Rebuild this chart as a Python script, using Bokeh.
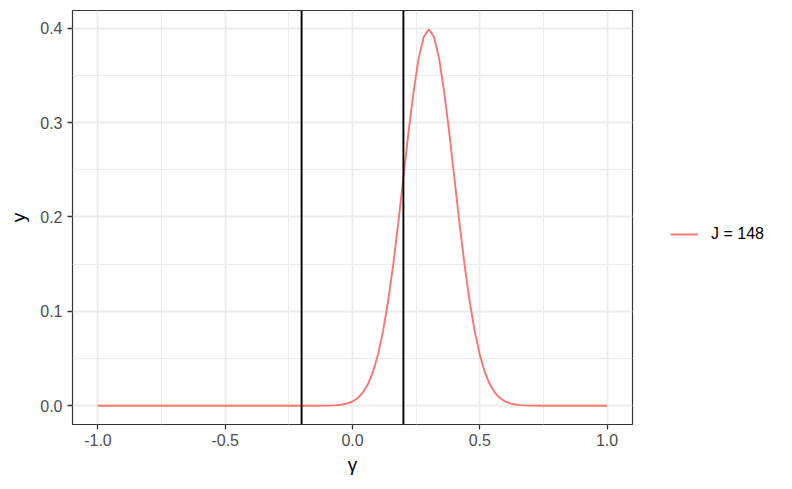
import numpy as np
from bokeh.plotting import figure
from bokeh.models import (Span, Legend, LegendItem, FixedTicker, PrintfTickFormatter, Range1d)
from bokeh.embed import file_html
from bokeh.resources import INLINE

# gamma grid (-1 to 1 step 0.02)
gamma = np.round(np.linspace(-1.0, 1.0, 101), 2)
density = [
    0.0, 0.0, 0.0, 0.0, 0.0, 0.0, 0.0, 0.0, 0.0, 0.0,
    0.0, 0.0, 0.0, 0.0, 0.0, 0.0, 0.0, 0.0, 0.0, 0.0,
    0.0, 0.0, 0.0, 0.0, 0.0, 0.0, 0.0, 0.0, 0.0, 0.0,
    0.0, 0.0, 0.0, 0.0, 0.0, 0.0, 0.0, 0.0, 0.0, 0.0,
    0.0, 0.0, 0.0, 0.0, 0.0001, 0.0001, 0.0003, 0.0006, 0.0012, 0.0024,
    0.0044, 0.0079, 0.0136, 0.0224, 0.0355, 0.0540, 0.0790, 0.1109, 0.1497, 0.1942,
    0.2420, 0.2897, 0.3332, 0.3683, 0.3910, 0.3989, 0.3910, 0.3683, 0.3332, 0.2897,
    0.2420, 0.1942, 0.1497, 0.1109, 0.0790, 0.0540, 0.0355, 0.0224, 0.0136, 0.0079,
    0.0044, 0.0024, 0.0012, 0.0006, 0.0003, 0.0001, 0.0001, 0.0, 0.0, 0.0,
    0.0, 0.0, 0.0, 0.0, 0.0, 0.0, 0.0, 0.0, 0.0, 0.0,
    0.0,
]
vlines = [-0.2, 0.2]
series_label = "J = 148"
x_ticks = [-1.0, -0.5, 0.0, 0.5, 1.0]
x_minor = [-0.75, -0.25, 0.25, 0.75]
y_ticks = [0.0, 0.1, 0.2, 0.3, 0.4]
y_minor = [0.05, 0.15, 0.25, 0.35]

FONT = "Liberation Sans"

p = figure(width=784, height=481, frame_width=560, frame_height=414,
           output_backend="svg", toolbar_location=None,
           x_range=Range1d(-1.1, 1.1), y_range=Range1d(-0.01995, 0.4188),
           min_border_left=72, min_border_top=10, min_border_right=152, min_border_bottom=57)

p.background_fill_color = "white"
p.border_fill_color = "white"
p.outline_line_color = "#333333"
p.outline_line_width = 1.2

p.xaxis.ticker = FixedTicker(ticks=x_ticks, minor_ticks=x_minor)
p.yaxis.ticker = FixedTicker(ticks=y_ticks, minor_ticks=y_minor)
for ax in (p.xaxis, p.yaxis):
    ax.formatter = PrintfTickFormatter(format="%.1f")
    ax.axis_line_color = None
    ax.major_tick_line_color = "#333333"
    ax.major_tick_line_width = 1.3
    ax.major_tick_in = 0
    ax.major_tick_out = 5
    ax.minor_tick_line_color = None
    ax.major_label_text_font = FONT
    ax.major_label_text_font_size = "16px"
    ax.major_label_text_color = "#4D4D4D"
    ax.axis_label_text_font = FONT
    ax.axis_label_text_font_size = "19px"
    ax.axis_label_text_font_style = "normal"
    ax.axis_label_text_color = "black"
p.xaxis.axis_label = "γ"
p.yaxis.axis_label = "y"
p.xaxis.major_label_standoff = 4
p.yaxis.major_label_standoff = 5
p.xaxis.axis_label_standoff = 5
p.yaxis.axis_label_standoff = 8

for g in (p.xgrid, p.ygrid):
    g.grid_line_color = "#EBEBEB"
    g.grid_line_width = 1.8
    g.minor_grid_line_color = "#EBEBEB"
    g.minor_grid_line_width = 1.0

r = p.line(gamma, density, line_color="#F8766D", line_width=1.9)

for v in vlines:
    p.add_layout(Span(location=v, dimension="height", line_color="black", line_width=1.9))

legend = Legend(items=[LegendItem(label=series_label, renderers=[r])],
                location=(38, 180), label_text_font=FONT, label_text_font_size="16px",
                label_text_color="black", glyph_width=28, glyph_height=20,
                border_line_color=None, background_fill_alpha=0,
                margin=0, padding=10, spacing=0, label_standoff=13)
p.add_layout(legend, "right")

open("out.html", "w").write(file_html(p, INLINE))
